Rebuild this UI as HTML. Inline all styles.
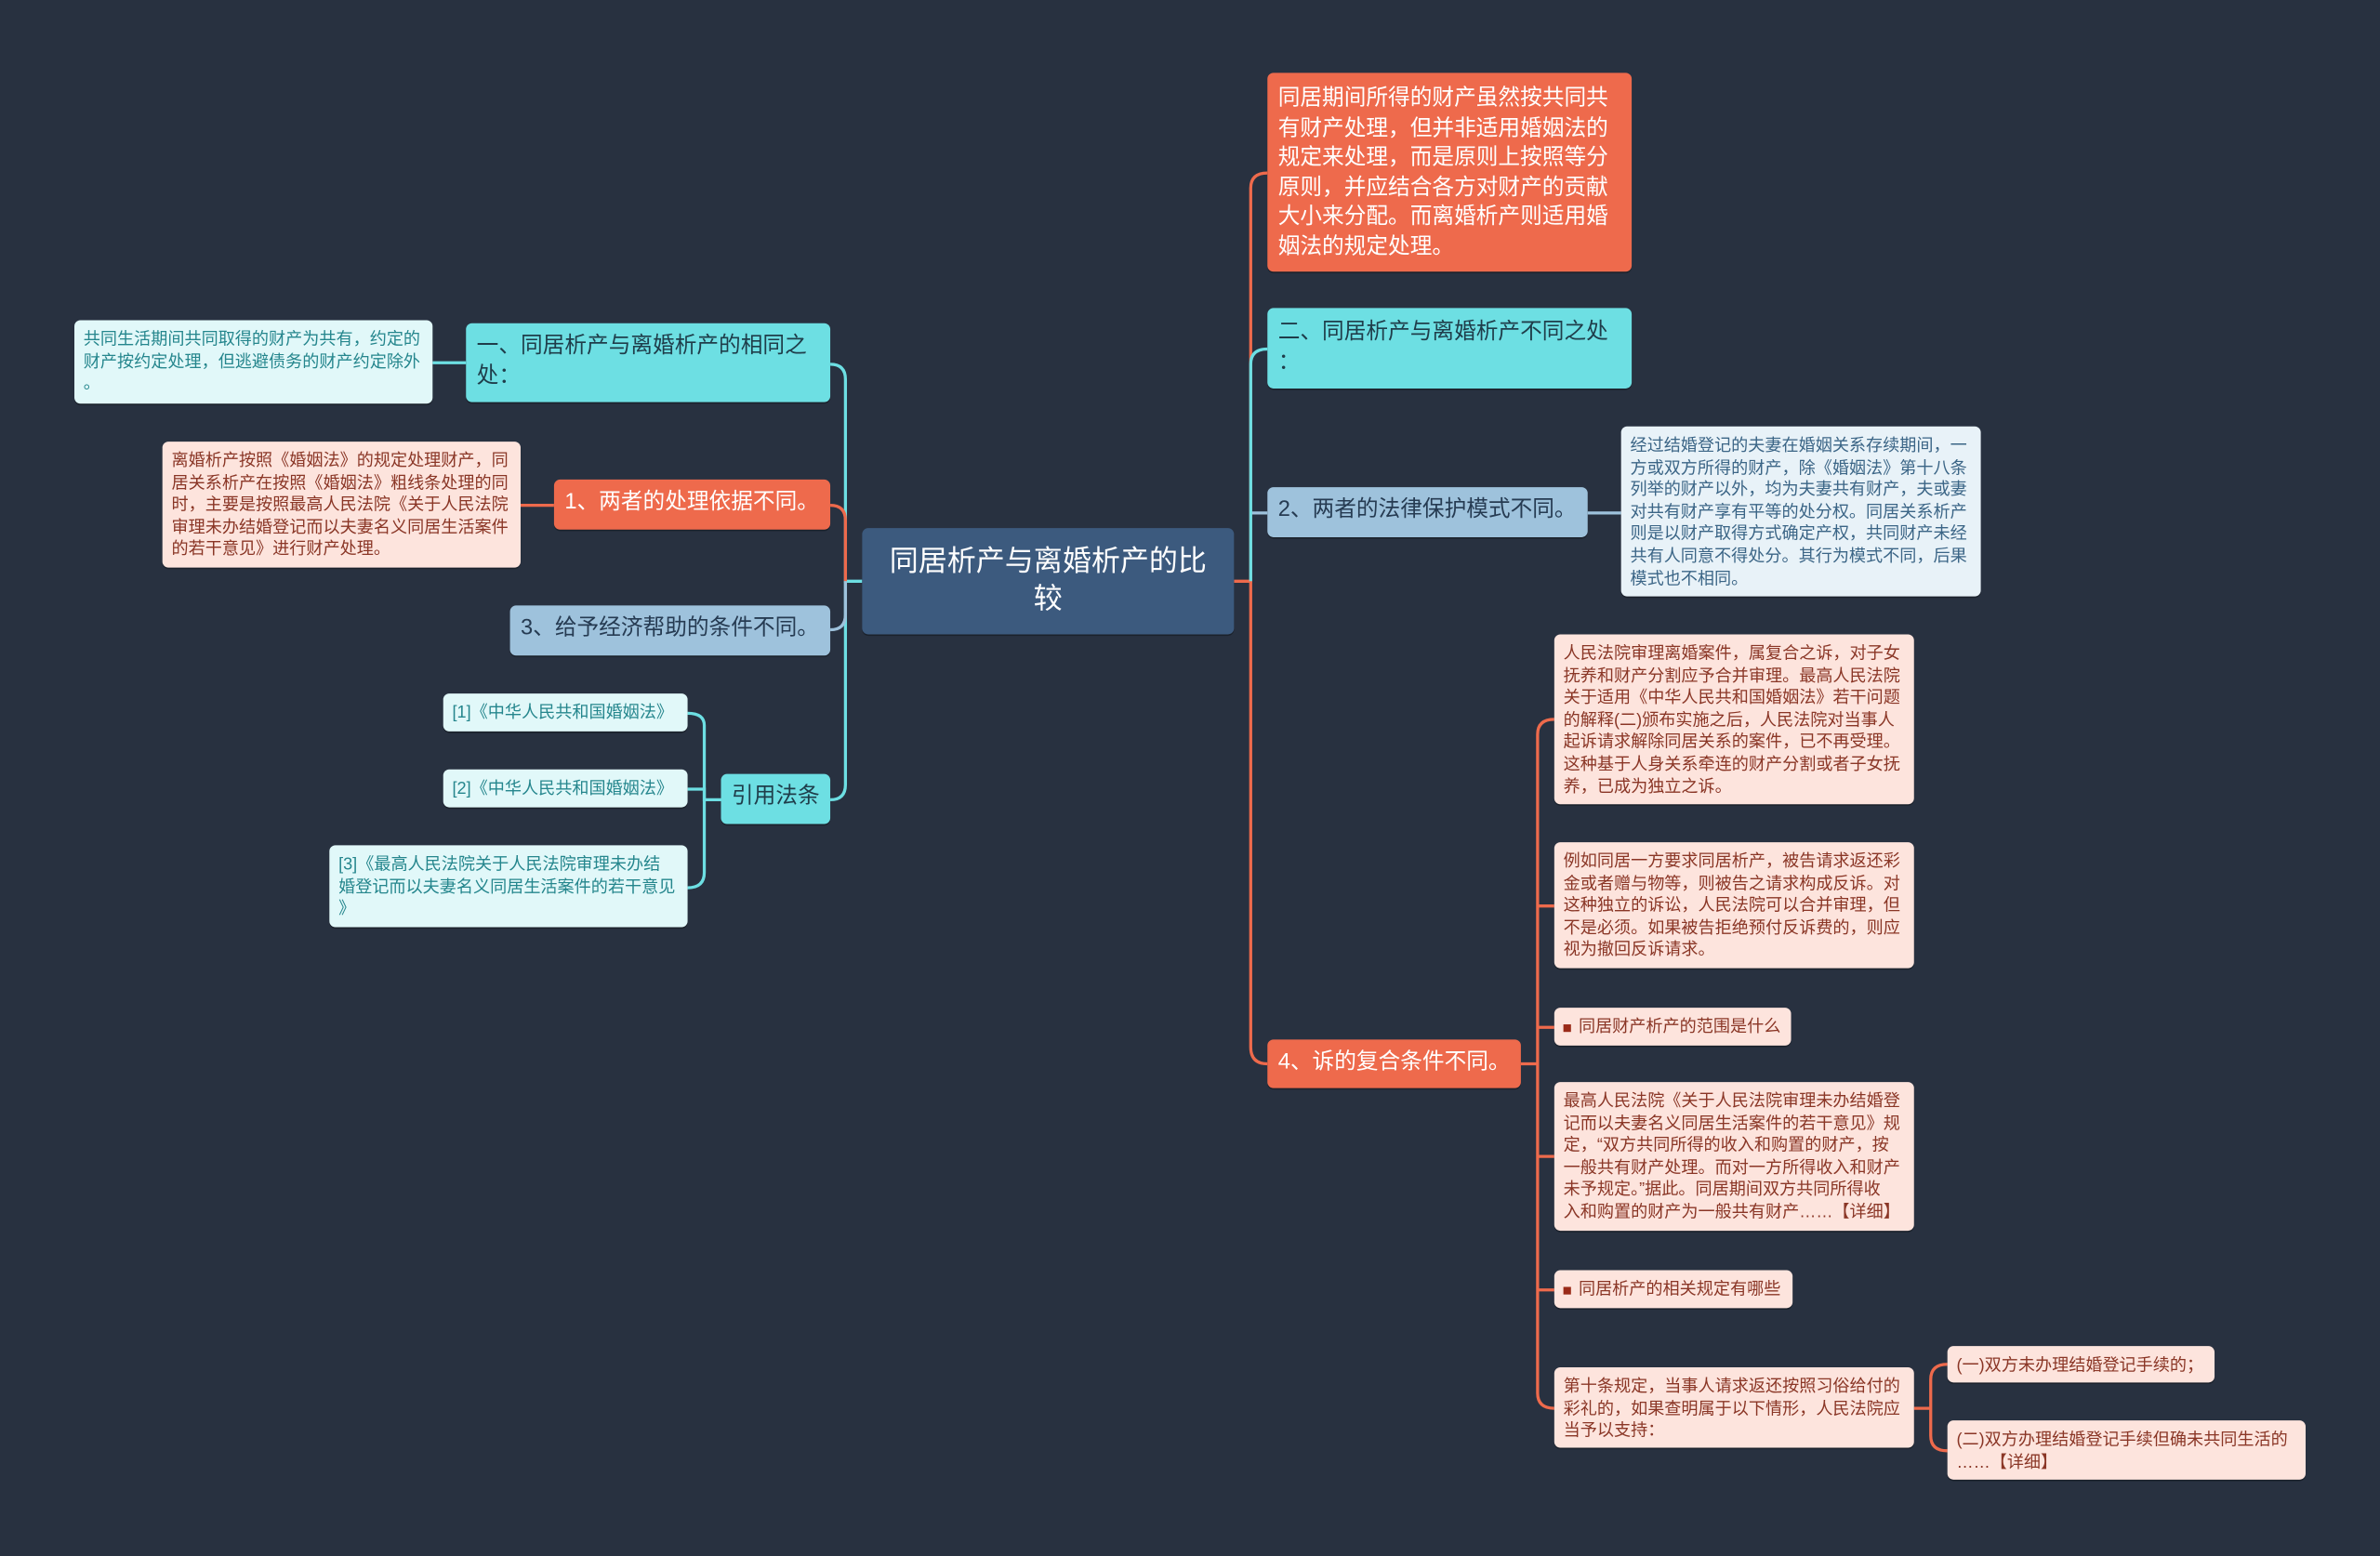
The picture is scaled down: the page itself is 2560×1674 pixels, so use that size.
<!DOCTYPE html>
<html><head><meta charset="utf-8"><style>
html,body{margin:0;padding:0;background:#283140;overflow:hidden}
#w{position:absolute;left:0;top:0;width:1568px;height:1025px;transform:scale(1.63265);transform-origin:0 0;font-family:"Liberation Sans","Noto Sans CJK SC",sans-serif}
.n{position:absolute;box-sizing:border-box;border-radius:4px;white-space:nowrap;box-shadow:0 1px 0 rgba(0,0,0,.3)}
.m{font-size:14.5px;line-height:19.5px;padding:6px 7px}
.l{font-size:11.1px;line-height:14.6px;padding:6px 6px}
.cy{background:#6ddfe3;color:#1f3d4a}
.rd{background:#ee6a4c;color:#fff}
.bl{background:#9ec2dc;color:#263b52}
.lc{background:#e1f8f9;color:#25868d}
.lp{background:#fde4dd;color:#8a3626}
.lb{background:#e8f2f8;color:#3b6586}
.sq{display:inline-block;width:5px;height:5px;background:#9a2a18;margin-right:5px;vertical-align:middle}
</style></head><body><div id="w">
<svg width="1568" height="1025" style="position:absolute;left:0;top:0" fill="none" stroke-width="2">
<g stroke="#6ddfe3">
<path d="M568 383 H557 V250 Q557 240 547 240"/>
<path d="M557 383 V517 Q557 527 547 527"/>
<path d="M307 239 H285"/>
<path d="M475 527 H464 V478 Q464 470 453 470"/>
<path d="M464 527 V520 H453"/>
<path d="M464 527 V575 Q464 585 453 585"/>
</g>
<g stroke="#ee6a4c">
<path d="M557 383 V343 Q557 333 547 333"/>
<path d="M365 333 H343"/>
<path d="M813 383 H824 V124 Q824 114 835 114"/>
<path d="M824 383 V690 Q824 701 835 701"/>
<path d="M1002 701 H1013 V484 Q1013 474 1024 474"/>
<path d="M1013 597 H1024 M1013 677 H1024 M1013 762 H1024 M1013 850 H1024"/>
<path d="M1013 701 V918 Q1013 928 1024 928"/>
<path d="M1261 928 H1272 V909 Q1272 899 1283 899 M1272 928 V946 Q1272 956 1283 956"/>
</g>
<g stroke="#9ec2dc">
<path d="M557 383 V405 Q557 415 547 415"/>
<path d="M824 338 H835 M1046 338 H1068"/>
</g>
<path stroke="#6ddfe3" d="M824 383 V240 Q824 230 835 230"/>
</svg>
<div class="n" style="left:568px;top:348px;width:245px;height:70px;background:#3c5a7e;color:#fff;font-size:19px;line-height:25px;text-align:center;padding:10px 10px">同居析产与离婚析产的比<br>较</div>

<div class="n m rd" style="left:835px;top:48px;width:240px;height:131px;padding-top:8px">同居期间所得的财产虽然按共同共<br>有财产处理，但并非适用婚姻法的<br>规定来处理，而是原则上按照等分<br>原则，并应结合各方对财产的贡献<br>大小来分配。而离婚析产则适用婚<br>姻法的规定处理。</div>
<div class="n m cy" style="left:835px;top:203px;width:240px;height:53px;padding-top:7px">二、同居析产与离婚析产不同之处<br>：</div>
<div class="n m bl" style="left:835px;top:321px;width:211px;height:33px">2、两者的法律保护模式不同。</div>
<div class="n l lb" style="left:1068px;top:281px;width:237px;height:112px">经过结婚登记的夫妻在婚姻关系存续期间，一<br>方或双方所得的财产，除《婚姻法》第十八条<br>列举的财产以外，均为夫妻共有财产，夫或妻<br>对共有财产享有平等的处分权。同居关系析产<br>则是以财产取得方式确定产权，共同财产未经<br>共有人同意不得处分。其行为模式不同，后果<br>模式也不相同。</div>
<div class="n m rd" style="left:835px;top:685px;width:167px;height:32px">4、诉的复合条件不同。</div>
<div class="n l lp" style="left:1024px;top:418px;width:237px;height:112px">人民法院审理离婚案件，属复合之诉，对子女<br>抚养和财产分割应予合并审理。最高人民法院<br>关于适用《中华人民共和国婚姻法》若干问题<br>的解释(二)颁布实施之后，人民法院对当事人<br>起诉请求解除同居关系的案件，已不再受理。<br>这种基于人身关系牵连的财产分割或者子女抚<br>养，已成为独立之诉。</div>
<div class="n l lp" style="left:1024px;top:555px;width:237px;height:83px">例如同居一方要求同居析产，被告请求返还彩<br>金或者赠与物等，则被告之请求构成反诉。对<br>这种独立的诉讼，人民法院可以合并审理，但<br>不是必须。如果被告拒绝预付反诉费的，则应<br>视为撤回反诉请求。</div>
<div class="n l lp" style="left:1024px;top:664px;width:156px;height:25px"><span class="sq"></span>同居财产析产的范围是什么</div>
<div class="n l lp" style="left:1024px;top:713px;width:237px;height:98px">最高人民法院《关于人民法院审理未办结婚登<br>记而以夫妻名义同居生活案件的若干意见》规<br>定，“双方共同所得的收入和购置的财产，按<br>一般共有财产处理。而对一方所得收入和财产<br>未予规定。”据此。同居期间双方共同所得收<br>入和购置的财产为一般共有财产……【详细】</div>
<div class="n l lp" style="left:1024px;top:837px;width:157px;height:25px"><span class="sq"></span>同居析产的相关规定有哪些</div>
<div class="n l lp" style="left:1024px;top:901px;width:237px;height:53px">第十条规定，当事人请求返还按照习俗给付的<br>彩礼的，如果查明属于以下情形，人民法院应<br>当予以支持：</div>
<div class="n l lp" style="left:1283px;top:887px;width:176px;height:24px">(一)双方未办理结婚登记手续的；</div>
<div class="n l lp" style="left:1283px;top:936px;width:236px;height:39px">(二)双方办理结婚登记手续但确未共同生活的<br>……【详细】</div>

<div class="n m cy" style="left:307px;top:213px;width:240px;height:52px">一、同居析产与离婚析产的相同之<br>处：</div>
<div class="n l lc" style="left:49px;top:211px;width:236px;height:55px">共同生活期间共同取得的财产为共有，约定的<br>财产按约定处理，但逃避债务的财产约定除外<br>。</div>
<div class="n m rd" style="left:365px;top:316px;width:182px;height:33px">1、两者的处理依据不同。</div>
<div class="n l lp" style="left:107px;top:291px;width:236px;height:83px">离婚析产按照《婚姻法》的规定处理财产，同<br>居关系析产在按照《婚姻法》粗线条处理的同<br>时，主要是按照最高人民法院《关于人民法院<br>审理未办结婚登记而以夫妻名义同居生活案件<br>的若干意见》进行财产处理。</div>
<div class="n m bl" style="left:336px;top:399px;width:211px;height:33px">3、给予经济帮助的条件不同。</div>
<div class="n m cy" style="left:475px;top:510px;width:72px;height:33px">引用法条</div>
<div class="n l lc" style="left:292px;top:457px;width:161px;height:25px">[1]《中华人民共和国婚姻法》</div>
<div class="n l lc" style="left:292px;top:507px;width:161px;height:25px">[2]《中华人民共和国婚姻法》</div>
<div class="n l lc" style="left:217px;top:557px;width:236px;height:54px">[3]《最高人民法院关于人民法院审理未办结<br>婚登记而以夫妻名义同居生活案件的若干意见<br>》</div>
</div></body></html>
